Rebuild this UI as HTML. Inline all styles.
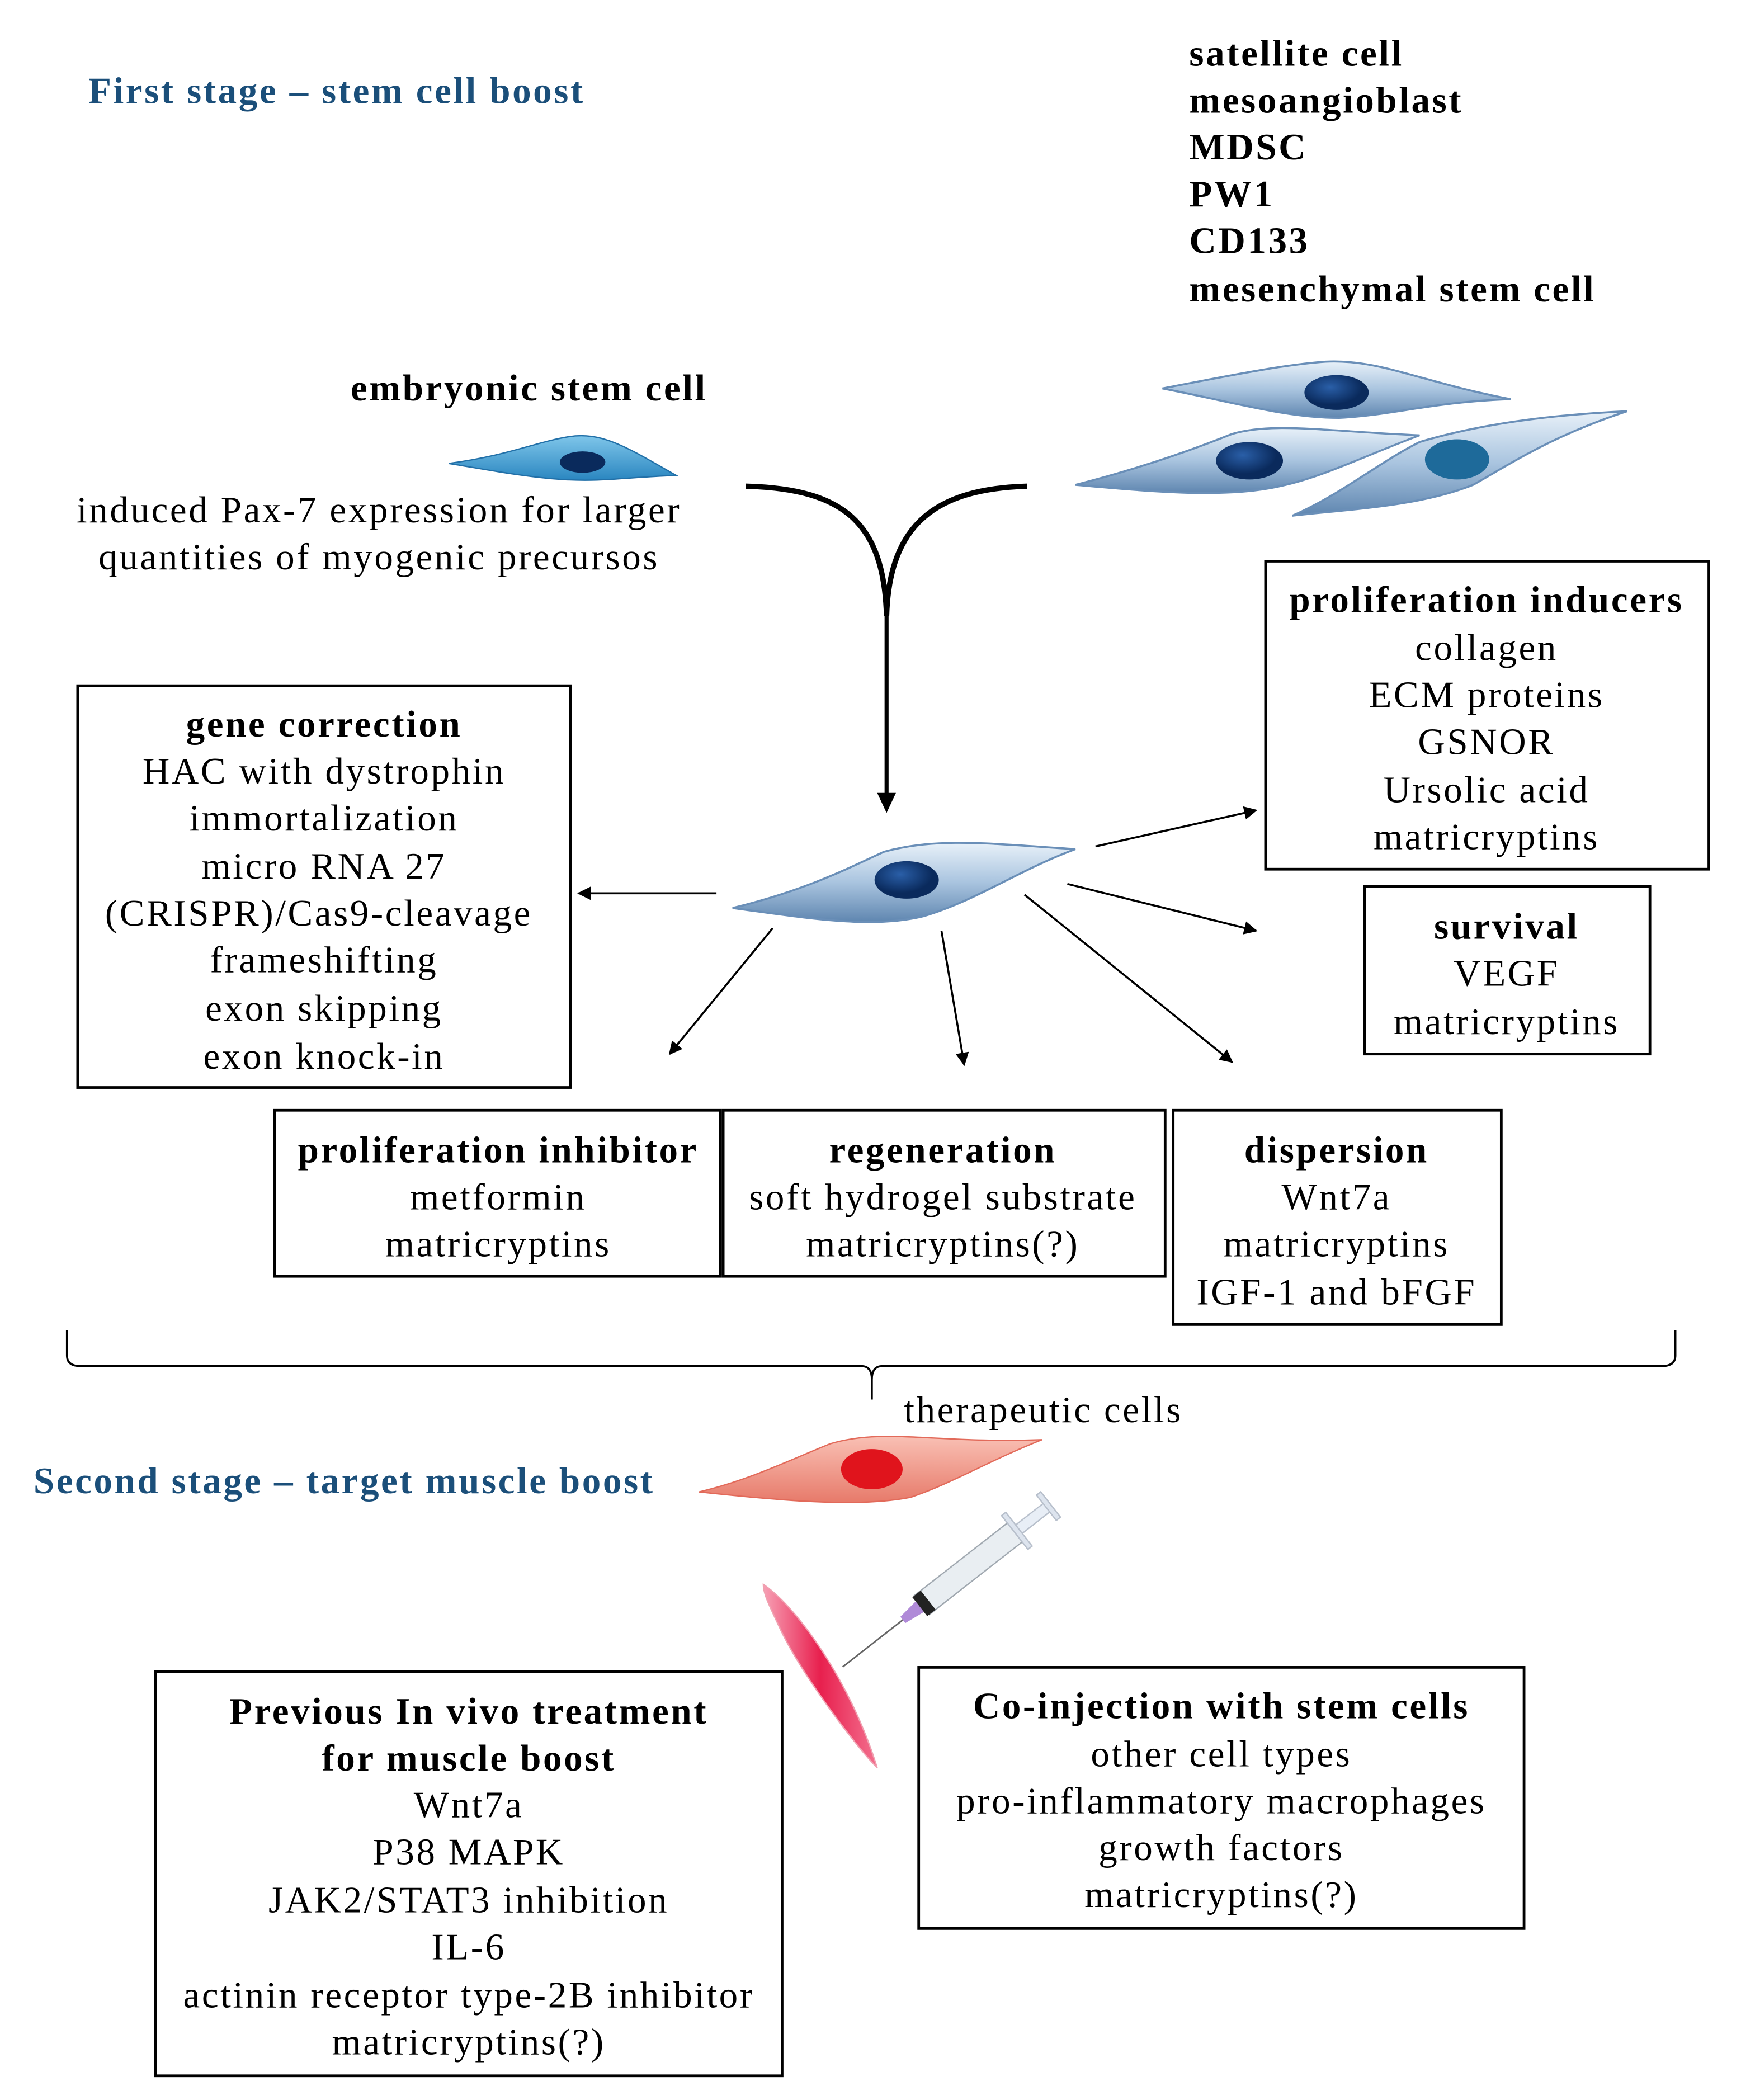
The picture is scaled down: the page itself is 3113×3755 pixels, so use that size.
<!DOCTYPE html>
<html><head><meta charset="utf-8"><style>
html,body{margin:0;padding:0;background:#fff;}
svg{display:block;}
text{font-family:"Liberation Serif",serif;font-size:28px;letter-spacing:1.5px;fill:#000;}
.b{font-weight:bold;}
.h{font-weight:bold;fill:#1b4f7a;}
.c{text-anchor:middle;}
</style></head><body>
<svg width="3113" height="3755" viewBox="0 0 1300 1568" xmlns="http://www.w3.org/2000/svg">
<defs>
<linearGradient id="cb" x1="0" y1="0" x2="0" y2="1"><stop offset="0" stop-color="#e8f1f9"/><stop offset="0.5" stop-color="#a9c4df"/><stop offset="1" stop-color="#5f86b0"/></linearGradient>
<linearGradient id="cb2" x1="0" y1="0" x2="0" y2="1"><stop offset="0" stop-color="#7fc6ea"/><stop offset="1" stop-color="#2a86c0"/></linearGradient>
<radialGradient id="nb" cx="0.4" cy="0.35"><stop offset="0" stop-color="#2a5fa8"/><stop offset="1" stop-color="#0a2a5c"/></radialGradient>
<linearGradient id="cr" x1="0" y1="0" x2="0" y2="1"><stop offset="0" stop-color="#f9c0b4"/><stop offset="1" stop-color="#e77a6a"/></linearGradient>
<linearGradient id="mr" x1="0" y1="0" x2="1" y2="0"><stop offset="0" stop-color="#f7a0b5"/><stop offset="0.5" stop-color="#e8204e"/><stop offset="1" stop-color="#f3708f"/></linearGradient>
<marker id="ar" markerWidth="10" markerHeight="10" refX="9" refY="5" orient="auto" markerUnits="userSpaceOnUse"><path d="M0,0 L10,5 L0,10 z" fill="#000"/></marker>
</defs>

<text x="66" y="77" class="h">First stage – stem cell boost</text>
<text x="888" y="49" class="b">satellite cell</text>
<text x="888" y="84" class="b">mesoangioblast</text>
<text x="888" y="119" class="b">MDSC</text>
<text x="888" y="154" class="b">PW1</text>
<text x="888" y="189" class="b">CD133</text>
<text x="888" y="225" class="b">mesenchymal stem cell</text>
<text x="395" y="299" class="b c">embryonic stem cell</text>
<text x="283" y="390" class="c">induced Pax-7 expression for larger</text>
<text x="283" y="425" class="c">quantities of myogenic precursos</text>

<path d="M335,346 C380,340 400,330 425,326 C450,322 470,335 505,355 C470,356 450,360 420,358 C390,356 360,350 335,346 z" fill="url(#cb2)" stroke="#2270a8" stroke-width="1"/>
<ellipse cx="435" cy="345" rx="17" ry="8" fill="#0a2a5c"/>

<g stroke="#6a8fb8" stroke-width="1.5">
<path d="M868,290 C920,280 960,272 990,270 C1030,268 1060,285 1128,298 C1070,300 1040,310 1000,312 C960,312 920,300 868,290 z" fill="url(#cb)"/>
<ellipse cx="998" cy="293" rx="24" ry="13" fill="url(#nb)" stroke="none"/>
<path d="M803,362 C850,350 890,336 920,324 C950,315 990,322 1060,325 C1020,340 990,355 960,362 C920,372 870,368 803,362 z" fill="url(#cb)"/>
<ellipse cx="933" cy="344" rx="25" ry="14" fill="url(#nb)" stroke="none"/>
<path d="M965,385 C1000,370 1030,345 1060,330 C1100,318 1150,310 1215,307 C1160,325 1130,345 1100,362 C1060,378 1010,380 965,385 z" fill="url(#cb)"/>
<ellipse cx="1088" cy="343" rx="24" ry="15" fill="#1e6a9a" stroke="none"/>
</g>

<path d="M557,363 C630,365 660,390 662,460" fill="none" stroke="#000" stroke-width="4"/>
<path d="M767,363 C700,365 664,390 662,460" fill="none" stroke="#000" stroke-width="4"/>
<line x1="662" y1="455" x2="662" y2="594" stroke="#000" stroke-width="3"/>
<path d="M655,592 L662,607 L669,592 z" fill="#000"/>

<path d="M547,678 C600,665 630,650 660,636 C700,625 740,630 803,634 C760,650 730,672 690,684 C650,694 600,685 547,678 z" fill="url(#cb)" stroke="#6a8fb8" stroke-width="1.5"/>
<ellipse cx="677" cy="657" rx="24" ry="14" fill="url(#nb)"/>

<g stroke="#000" stroke-width="1.5" fill="none" marker-end="url(#ar)">
<line x1="535" y1="667" x2="432" y2="667"/>
<line x1="818" y1="632" x2="938" y2="605"/>
<line x1="797" y1="660" x2="938" y2="695"/>
<line x1="577" y1="693" x2="500" y2="787"/>
<line x1="703" y1="695" x2="720" y2="795"/>
<line x1="765" y1="668" x2="920" y2="793"/>
</g>

<g fill="none" stroke="#000" stroke-width="2">
<rect x="945" y="419" width="331" height="230"/>
<rect x="58" y="512" width="368" height="300"/>
<rect x="1019" y="662" width="213" height="125"/>
<rect x="205" y="829" width="333" height="124"/>
<rect x="540" y="829" width="330" height="124"/>
<rect x="876" y="829" width="245" height="160"/>
<rect x="116" y="1248" width="468" height="302"/>
<rect x="686" y="1245" width="452" height="195"/>
</g>

<text x="1110" y="457" class="b c">proliferation inducers</text>
<text x="1110" y="493" class="c">collagen</text>
<text x="1110" y="528" class="c">ECM proteins</text>
<text x="1110" y="563" class="c">GSNOR</text>
<text x="1110" y="599" class="c">Ursolic acid</text>
<text x="1110" y="634" class="c">matricryptins</text>

<text x="242" y="550" class="b c">gene correction</text>
<text x="242" y="585" class="c">HAC with dystrophin</text>
<text x="242" y="620" class="c">immortalization</text>
<text x="242" y="656" class="c">micro RNA 27</text>
<text x="238" y="691" class="c">(CRISPR)/Cas9-cleavage</text>
<text x="242" y="726" class="c">frameshifting</text>
<text x="242" y="762" class="c">exon skipping</text>
<text x="242" y="798" class="c">exon knock-in</text>

<text x="1125" y="701" class="b c">survival</text>
<text x="1125" y="736" class="c">VEGF</text>
<text x="1125" y="772" class="c">matricryptins</text>

<text x="372" y="868" class="b c">proliferation inhibitor</text>
<text x="372" y="903" class="c">metformin</text>
<text x="372" y="938" class="c">matricryptins</text>

<text x="704" y="868" class="b c">regeneration</text>
<text x="704" y="903" class="c">soft hydrogel substrate</text>
<text x="704" y="938" class="c">matricryptins(?)</text>

<text x="998" y="868" class="b c">dispersion</text>
<text x="998" y="903" class="c">Wnt7a</text>
<text x="998" y="938" class="c">matricryptins</text>
<text x="998" y="974" class="c">IGF-1 and bFGF</text>

<path d="M50,993 L50,1012 Q50,1020 60,1020 L643,1020 Q651,1020 651,1030 L651,1045 M651,1030 Q651,1020 659,1020 L1241,1020 Q1251,1020 1251,1012 L1251,993" fill="none" stroke="#000" stroke-width="1.5"/>

<text x="675" y="1062">therapeutic cells</text>
<text x="25" y="1115" class="h">Second stage – target muscle boost</text>

<path d="M522,1114 C560,1105 590,1090 620,1078 C660,1066 700,1078 778,1075 C740,1090 710,1108 680,1118 C640,1126 580,1120 522,1114 z" fill="url(#cr)" stroke="#e26a5a" stroke-width="1"/>
<ellipse cx="651" cy="1097" rx="23" ry="15" fill="#e0141c"/>

<g transform="translate(712,1180) rotate(-38)">
<rect x="-30" y="-9" width="90" height="18" fill="#e9eef2" stroke="#a0a8b0"/>
<rect x="-32" y="-9" width="8" height="18" fill="#222"/>
<rect x="60" y="-4" width="30" height="8" fill="#e8eef6" stroke="#b8c0cc"/>
<rect x="58" y="-16" width="4" height="32" fill="#dde4ee" stroke="#b8c0cc"/>
<rect x="88" y="-12" width="4" height="24" fill="#dde4ee" stroke="#b8c0cc"/>
<path d="M-32,-5 L-48,-3 L-48,3 L-32,5 z" fill="#b08ad8"/>
<line x1="-48" y1="0" x2="-105" y2="0" stroke="#666" stroke-width="1.2"/>
</g>

<path d="M570,1183 C595,1200 635,1255 655,1320 C640,1305 598,1250 582,1215 C574,1198 570,1190 570,1183 z" fill="url(#mr)" stroke="#f0a0b0" stroke-width="1"/>

<text x="350" y="1287" class="b c">Previous In vivo treatment</text>
<text x="350" y="1322" class="b c">for muscle boost</text>
<text x="350" y="1357" class="c">Wnt7a</text>
<text x="350" y="1392" class="c">P38 MAPK</text>
<text x="350" y="1428" class="c">JAK2/STAT3 inhibition</text>
<text x="350" y="1463" class="c">IL-6</text>
<text x="350" y="1499" class="c">actinin receptor type-2B inhibitor</text>
<text x="350" y="1534" class="c">matricryptins(?)</text>

<text x="912" y="1283" class="b c">Co-injection with stem cells</text>
<text x="912" y="1319" class="c">other cell types</text>
<text x="912" y="1354" class="c">pro-inflammatory macrophages</text>
<text x="912" y="1389" class="c">growth factors</text>
<text x="912" y="1424" class="c">matricryptins(?)</text>
</svg>
</body></html>
